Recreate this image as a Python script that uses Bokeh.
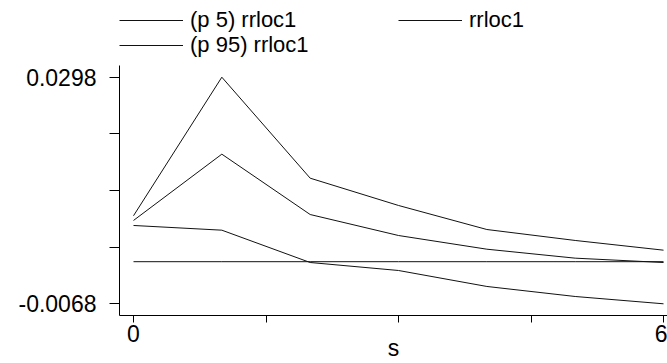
from bokeh.plotting import figure
from bokeh.models import FixedTicker, Legend, LegendItem
from bokeh.layouts import column
from bokeh.embed import file_html
from bokeh.resources import INLINE

# data
steps = [0, 1, 2, 3, 4, 5, 6]
p5_rrloc1 = [0.00585, 0.00509, -0.00013, -0.00142, -0.00400, -0.00562, -0.00680]
rrloc1 = [0.00666, 0.01737, 0.00762, 0.00423, 0.00202, 0.00057, -0.00013]
p95_rrloc1 = [0.00742, 0.02980, 0.01349, 0.00908, 0.00520, 0.00343, 0.00186]
zero_line = [0, 0, 0, 0, 0, 0, 0]

x_ticks = [0, 1.5, 3, 4.5, 6]
x_tick_labels = ["0", "", "", "", "6"]
y_ticks = [-0.0068, 0.00235, 0.0115, 0.02065, 0.0298]
y_tick_labels = ["-0.0068", "", "", "", "0.0298"]
series_labels = ["(p 5) rrloc1", "rrloc1", "(p 95) rrloc1"]

FONT = "Liberation Sans"
FS = "23px"
LFS = "22px"
lc = "#111111"

p = figure(width=667, height=303,
           x_range=(-0.1585, 6.045), y_range=(-0.00869, 0.03169),
           output_backend="svg", toolbar_location=None,
           min_border_left=119, min_border_right=0,
           min_border_top=5, min_border_bottom=48)
p.outline_line_color = None
p.xgrid.visible = False
p.ygrid.visible = False
p.background_fill_color = "white"
p.border_fill_color = "white"

p.line(steps, p5_rrloc1, line_color=lc, line_width=1)
p.line(steps, rrloc1, line_color=lc, line_width=1)
p.line(steps, p95_rrloc1, line_color=lc, line_width=1)
p.line(steps, zero_line, line_color=lc, line_width=1)

# axes
xa = p.xaxis[0]
xa.ticker = FixedTicker(ticks=x_ticks)
xa.major_label_overrides = dict(zip(x_ticks, x_tick_labels))
xa.minor_tick_line_color = None
xa.major_tick_in = 0
xa.major_tick_out = 7
xa.major_label_standoff = 2
xa.axis_label = "s"
xa.axis_label_standoff = -10
xa.axis_label_text_font = FONT
xa.axis_label_text_font_size = FS
xa.axis_label_text_font_style = "normal"
xa.major_label_text_font = FONT
xa.major_label_text_font_size = FS
xa.axis_line_color = "black"
xa.major_tick_line_color = "black"
xa.major_label_text_color = "black"
xa.axis_label_text_color = "black"

ya = p.yaxis[0]
ya.ticker = FixedTicker(ticks=y_ticks)
ya.major_label_overrides = dict(zip(y_ticks, y_tick_labels))
ya.minor_tick_line_color = None
ya.major_tick_in = 0
ya.major_tick_out = 10
ya.major_label_standoff = 13
ya.major_label_orientation = "horizontal"
ya.major_label_text_font = FONT
ya.major_label_text_font_size = FS
ya.axis_line_color = "black"
ya.major_tick_line_color = "black"
ya.major_label_text_color = "black"

# legend strip above the plot (its series are drawn out of view; only the key shows)
lp = figure(width=667, height=60, x_axis_type=None, y_axis_type=None,
            output_backend="svg", toolbar_location=None,
            min_border=0, min_border_left=119, min_border_right=0,
            x_range=(-20, -10), y_range=(-20, -10))
lp.outline_line_color = None
lp.xgrid.visible = False
lp.ygrid.visible = False
lp.background_fill_color = "white"
lp.border_fill_color = "white"
k_p5 = lp.line(steps, p5_rrloc1, line_color=lc, line_width=1)
k_mid = lp.line(steps, rrloc1, line_color=lc, line_width=1)
k_p95 = lp.line(steps, p95_rrloc1, line_color=lc, line_width=1)

def make_legend(label, renderer, loc):
    return Legend(items=[LegendItem(label=label, renderers=[renderer])],
                  location=loc, orientation="vertical",
                  padding=0, margin=0, spacing=0,
                  glyph_width=64, glyph_height=20, label_height=20,
                  label_standoff=7,
                  label_text_font=FONT, label_text_font_size=LFS,
                  label_text_color="black",
                  border_line_color=None, background_fill_alpha=0)

lp.add_layout(make_legend(series_labels[0], k_p5, (0, 27)), "center")
lp.add_layout(make_legend(series_labels[1], k_mid, (279, 27)), "center")
lp.add_layout(make_legend(series_labels[2], k_p95, (0, 2)), "center")

layout = column(lp, p, spacing=0)
open("out.html", "w").write(file_html(layout, INLINE))
